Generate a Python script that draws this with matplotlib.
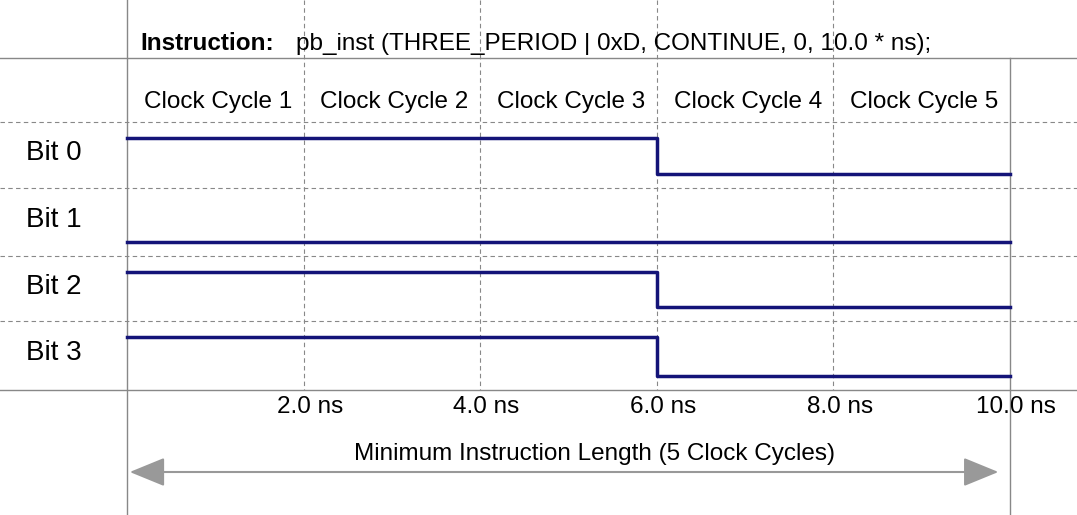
import matplotlib
matplotlib.use("Agg")
import matplotlib.pyplot as plt
import numpy as np

plt.rcParams['font.family'] = ['Liberation Sans', 'DejaVu Sans']

# data
bits = ['Bit 0', 'Bit 1', 'Bit 2', 'Bit 3']
edge_time = 6.0              # ns where the level changes
level_before = [1, 0, 1, 1]
level_after = [0, 0, 0, 0]
cycles = ['Clock Cycle 1', 'Clock Cycle 2', 'Clock Cycle 3', 'Clock Cycle 4', 'Clock Cycle 5']
tick_ns = [2.0, 4.0, 6.0, 8.0, 10.0]
total_ns = 10.0

px_per_ns = 88.3
fig = plt.figure(figsize=(10.77, 5.15), dpi=100)
ax = fig.add_axes([0, 0, 1, 1])
ax.set_xlim(-127 / px_per_ns, total_ns + 67 / px_per_ns)
ax.set_ylim(515, 0)
ax.axis('off')

lc = '#888888'
xl, xr = ax.get_xlim()
# grid lines
ax.plot([xl, xr], [58, 58], color=lc, lw=1)
ax.plot([xl, xr], [390, 390], color=lc, lw=1)
for y in [122, 188, 256, 321]:
    ax.plot([xl, xr], [y, y], color=lc, lw=0.8, ls=(0, (4, 3)))
for t in tick_ns[:-1]:
    ax.plot([t, t], [0, 390], color=lc, lw=0.8, ls=(0, (4, 3)))
ax.plot([0, 0], [0, 515], color=lc, lw=1)
ax.plot([total_ns, total_ns], [58, 515], color=lc, lw=1)

ax.text(0.15, 44, 'Instruction:', fontsize=17.5, fontweight='bold', va='center', ha='left')
ax.text(1.91, 44, 'pb_inst (THREE_PERIOD | 0xD, CONTINUE, 0, 10.0 * ns);',
        fontsize=17.5, va='center', ha='left')

cw = total_ns / len(cycles)
for i, c in enumerate(cycles):
    ax.text(i * cw + cw / 2 + 0.03, 102, c, fontsize=17.5, ha='center', va='center')

row_top = [122, 188, 256, 321]
row_bot = [188, 256, 321, 390]
for i, b in enumerate(bits):
    top, bot = row_top[i], row_bot[i]
    ax.text(-1.14, (top + bot) / 2 - 2, b, fontsize=20, ha='left', va='center')
    hi, lo = top + 16, bot - 14
    ys = [hi if level_before[i] else lo, hi if level_after[i] else lo]
    ax.step([0, edge_time, total_ns], [ys[0], ys[1], ys[1]], where='post',
            color='#141478', lw=2.5)

for t in tick_ns:
    ax.text(t + 0.07, 407, f'{t:.1f} ns', fontsize=17.5, ha='center', va='center')

ax.annotate('', xy=(0, 472), xytext=(total_ns - 0.1, 472),
            arrowprops=dict(arrowstyle='<|-|>,head_length=2.2,head_width=0.9',
                            color='#999999', lw=1.5))
ax.text(5.3, 454, 'Minimum Instruction Length (5 Clock Cycles)', fontsize=17.5,
        ha='center', va='center')

fig.savefig('out.png', dpi=100)
